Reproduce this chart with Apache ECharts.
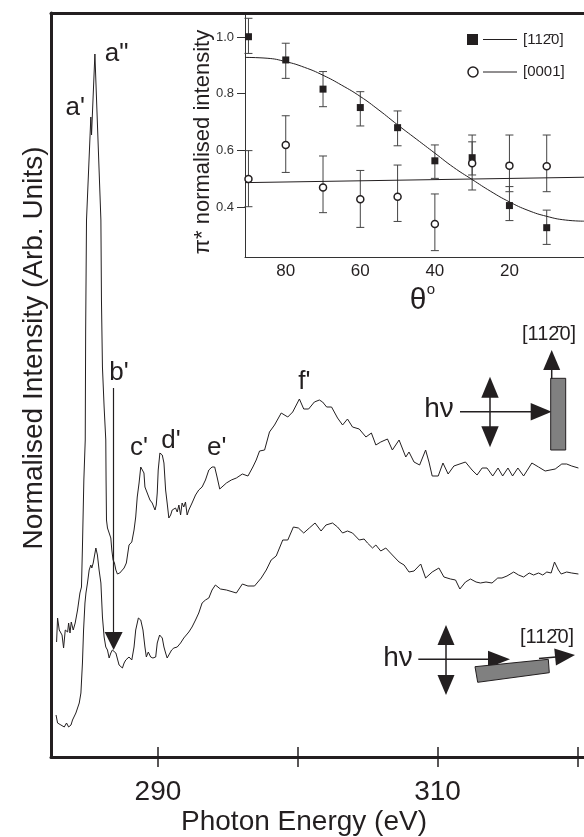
<!DOCTYPE html>
<html>
<head>
<meta charset="utf-8">
<script src="https://cdn.jsdelivr.net/npm/echarts@6/dist/echarts.min.js"></script>
<style>
html, body { margin: 0; padding: 0; background: #fff; }
#main { width: 584px; height: 837px; }
</style>
</head>
<body>
<div id="main"></div>
<script>
// main spectra, photon energy (eV) and intensity (arb. units)
var upperEnergy = [282.75,282.82,282.94,283.14,283.25,283.37,283.54,283.61,283.71,283.80,
  283.94,284.08,284.25,284.42,284.53,284.60,284.70,284.80,284.83,284.89,
  285.20,285.25,285.39,285.49,285.92,285.96,286.03,286.15,286.27,286.29,
  286.32,286.39,286.51,286.63,286.70,286.79,286.89,286.99,287.10,287.27,
  287.41,287.58,287.74,287.93,288.13,288.29,288.41,288.52,288.65,288.77,
  288.88,289.00,289.07,289.19,289.29,289.43,289.59,289.79,289.88,289.95,
  290.02,290.14,290.31,290.43,290.55,290.66,290.78,290.91,291.02,291.14,
  291.26,291.38,291.50,291.62,291.73,291.85,291.97,292.09,292.21,292.44,
  292.69,292.92,293.16,293.40,293.64,293.87,294.06,294.23,294.42,294.90,
  295.25,295.61,296.04,296.44,296.79,297.03,297.27,297.63,297.98,298.34,
  298.82,299.29,299.64,300.12,300.43,300.78,301.19,301.55,301.78,302.07,
  302.42,302.85,303.21,303.56,303.92,304.40,304.88,305.27,305.59,305.94,
  306.42,306.77,307.25,307.73,307.96,308.32,308.72,309.15,309.39,309.62,
  310.05,310.39,310.76,311.17,312.00,312.47,312.83,313.19,313.54,313.95,
  314.33,314.66,315.04,315.37,315.75,316.16,316.75,317.23,317.70,318.42,
  318.89,319.24,319.60,320.08];
var upperIntensity = [1.15,1.39,1.27,1.22,1.09,1.27,1.25,1.34,1.24,1.35,
  1.27,1.34,1.47,1.64,1.70,2.10,2.77,3.17,4.27,5.37,
  6.40,6.22,6.22,7.03,5.37,4.57,3.90,3.50,3.17,2.77,
  2.37,2.29,2.24,2.19,2.07,1.97,1.94,1.87,1.83,1.84,
  1.85,1.89,1.94,2.12,2.15,2.27,2.40,2.60,2.74,2.90,
  2.90,2.84,2.70,2.69,2.62,2.57,2.54,2.47,2.52,2.64,
  2.87,3.04,3.02,2.94,2.67,2.54,2.39,2.42,2.47,2.45,
  2.49,2.45,2.52,2.42,2.54,2.50,2.55,2.42,2.47,2.54,
  2.62,2.67,2.70,2.77,2.87,2.90,2.90,2.80,2.68,2.74,
  2.77,2.79,2.83,2.81,2.90,2.97,3.06,3.07,3.25,3.32,
  3.44,3.40,3.45,3.58,3.48,3.48,3.55,3.57,3.55,3.50,
  3.50,3.39,3.32,3.38,3.30,3.28,3.20,3.24,3.12,3.15,
  3.18,3.07,3.17,3.00,3.05,2.95,2.92,3.07,2.95,2.81,
  2.81,2.94,2.83,2.91,2.95,2.87,2.82,2.89,2.89,2.81,
  2.89,2.81,2.89,2.81,2.89,2.81,2.94,2.90,2.86,2.88,
  2.93,2.93,2.91,2.89];

var lowerEnergy = [282.71,282.82,282.94,283.06,283.18,283.30,283.46,283.61,283.78,283.89,
  284.01,284.13,284.37,284.49,284.60,284.68,284.78,284.85,284.96,285.08,
  285.20,285.27,285.37,285.56,285.67,285.79,285.92,286.03,286.15,286.27,
  286.39,286.51,286.63,286.74,286.86,286.99,287.10,287.22,287.34,287.46,
  287.58,287.70,287.81,287.93,288.13,288.29,288.41,288.60,288.77,288.93,
  289.07,289.17,289.31,289.48,289.64,289.84,289.95,290.12,290.31,290.43,
  290.55,290.66,290.78,290.98,291.14,291.38,291.62,291.85,291.97,292.21,
  292.44,292.69,292.92,293.16,293.40,293.64,293.87,294.11,294.47,294.90,
  295.61,296.04,296.44,296.91,297.39,297.75,298.10,298.46,298.93,299.29,
  299.69,300.05,300.43,300.83,301.24,301.67,302.02,302.49,302.85,303.21,
  303.56,303.92,304.40,304.75,304.99,305.35,305.59,305.94,306.30,306.77,
  307.25,307.61,307.96,308.32,308.80,309.15,309.62,310.10,310.46,310.93,
  311.29,311.60,312.00,312.36,312.76,313.07,313.47,313.90,314.31,314.61,
  314.97,315.45,315.80,316.16,316.56,316.87,317.23,317.53,317.82,318.13,
  318.37,318.65,318.85,319.24,319.60,320.08];
var lowerIntensity = [0.42,0.34,0.35,0.32,0.34,0.30,0.34,0.30,0.32,0.37,
  0.39,0.44,0.54,0.64,0.94,1.27,1.54,1.64,1.74,1.87,
  1.92,1.89,1.94,2.09,2.02,1.87,1.74,1.40,1.20,1.10,
  1.07,0.99,1.04,1.07,1.05,1.04,1.05,0.92,0.94,0.89,
  0.94,0.97,0.95,1.00,0.97,1.10,1.27,1.39,1.37,1.27,
  1.10,1.00,1.05,1.00,0.99,1.00,1.14,1.22,1.19,1.10,
  1.04,0.99,1.02,1.07,1.09,1.10,1.14,1.19,1.20,1.25,
  1.30,1.37,1.44,1.54,1.57,1.59,1.67,1.72,1.68,1.67,
  1.64,1.73,1.71,1.71,1.79,1.87,1.97,2.01,2.17,2.17,
  2.30,2.29,2.24,2.29,2.34,2.26,2.32,2.34,2.30,2.24,
  2.26,2.24,2.17,2.18,2.14,2.09,2.12,2.06,2.09,2.02,
  1.95,1.92,1.85,1.86,1.93,1.79,1.85,1.89,1.80,1.78,
  1.77,1.68,1.75,1.78,1.75,1.74,1.75,1.74,1.79,1.79,
  1.81,1.85,1.82,1.80,1.84,1.82,1.84,1.82,1.85,1.84,
  1.95,1.87,1.83,1.85,1.84,1.83];

// peak labels, placed in data units
var peakNames = ["a'", 'a"', "b'", "c'", "d'", "e'", "f'"];
var peakEnergy = [284.08, 287.04, 287.22, 288.65, 290.93, 294.21, 300.48];
var peakIntensity = [6.49, 7.035, 3.84, 3.09, 3.16, 3.09, 3.75];
// b' arrow, energy and start/end intensity
var arrowEnergy = 286.83;
var arrowFrom = 3.69;
var arrowTo = 1.16;

var energyTicks = [290, 300, 310, 320];
var energyLabels = [290, 310];

// inset: pi* intensity vs theta
var theta = [90, 80, 70, 60, 50, 40, 30, 20, 10];
var square = [1.001, 0.919, 0.816, 0.751, 0.680, 0.563, 0.574, 0.405, 0.327];
var squareLow = [0.942, 0.854, 0.754, 0.686, 0.616, 0.501, 0.513, 0.352, 0.268];
var squareHigh = [1.066, 0.978, 0.878, 0.807, 0.739, 0.619, 0.630, 0.472, 0.389];
var circle = [0.499, 0.619, 0.469, 0.427, 0.436, 0.340, 0.554, 0.546, 0.544];
var circleLow = [0.401, 0.522, 0.380, 0.328, 0.349, 0.246, 0.460, 0.454, 0.454];
var circleHigh = [0.599, 0.722, 0.580, 0.529, 0.548, 0.446, 0.654, 0.654, 0.654];
var fitTheta = [90.93, 85, 80, 75, 70, 65, 60, 55, 50, 45, 40, 35, 30, 25, 20, 15, 10, 5, 0];
var fitSquare = [0.928, 0.925, 0.913, 0.893, 0.865, 0.83, 0.79, 0.742, 0.69, 0.64, 0.59, 0.54, 0.497, 0.455, 0.418, 0.388, 0.367, 0.354, 0.35];
var fitCircleTheta = [90.93, 0];
var fitCircle = [0.486, 0.505];
var thetaTicks = [20, 40, 60, 80];
var insetTicks = [0.4, 0.6, 0.8, 1.0];

var ink = '#231f20';
var font = '"Liberation Sans", Arial, Helvetica, sans-serif';

function zip(a, b) { return a.map(function (v, i) { return [v, b[i]]; }); }

// little filled arrow head for the sketches
function head(tx, ty, ang, len, hw) {
    var bx = tx - len * Math.cos(ang), by = ty - len * Math.sin(ang);
    var px = -Math.sin(ang) * hw, py = Math.cos(ang) * hw;
    return { type: 'polygon', shape: { points: [[bx + px, by + py], [tx, ty], [bx - px, by - py]] }, style: { fill: ink } };
}
function seg(x1, y1, x2, y2, w) {
    return { type: 'line', shape: { x1: x1, y1: y1, x2: x2, y2: y2 }, style: { stroke: ink, lineWidth: w || 1.5 } };
}
function txt(x, y, s, size, rot) {
    return { type: 'text', x: x, y: y, rotation: rot || 0,
        style: { text: s, font: size + 'px ' + font, fill: ink, align: 'center', verticalAlign: 'middle', textAlign: 'center', textVerticalAlign: 'middle' } };
}

var chart = echarts.init(document.getElementById('main'));

var tilt = Math.atan2(-7.4, 73.3);
var sketch = [
    // upper: E along [11-20]
    txt(439, 409, 'h\u03bd', 28),
    seg(460, 411.7, 532, 411.7),
    head(551.7, 411.7, 0, 21, 8.7),
    seg(490, 396, 490, 428),
    head(490, 376.7, -Math.PI / 2, 21, 8.7),
    head(490, 447.3, Math.PI / 2, 21, 8.7),
    { type: 'rect', shape: { x: 550.7, y: 378.3, width: 15, height: 71.7 }, style: { fill: '#808080', stroke: ink, lineWidth: 1 } },
    seg(551.7, 368, 551.7, 379),
    head(551.7, 350, -Math.PI / 2, 20, 8.5),
    txt(549, 334, '[112\u03040]', 20),
    // lower: E across [11-20]
    txt(398, 658, 'h\u03bd', 28),
    seg(418.3, 659.3, 490, 659.3),
    head(510, 659.3, 0, 22, 8.5),
    seg(446, 643, 446, 677),
    head(446, 625, -Math.PI / 2, 20, 8.5),
    head(446, 695, Math.PI / 2, 20, 8.5),
    { type: 'polygon', shape: { points: [[475, 666.7], [548.3, 659.3], [549.3, 672.7], [477.7, 682.3]] }, style: { fill: '#808080', stroke: ink, lineWidth: 1 } },
    seg(539, 658.6, 556, 656.9),
    head(575, 655, tilt, 20, 8.5),
    txt(547, 637, '[112\u03040]', 20)
];

var legendParts = [
    { type: 'rect', shape: { x: 467, y: 34, width: 11, height: 11 }, style: { fill: ink } },
    seg(483, 39.5, 517, 39.5, 1),
    { type: 'text', x: 523, y: 40, style: { text: '[112\u03040]', font: '15px ' + font, fill: ink, align: 'left', verticalAlign: 'middle', textVerticalAlign: 'middle' } },
    { type: 'circle', shape: { cx: 473, cy: 72, r: 5 }, style: { fill: '#fff', stroke: ink, lineWidth: 1.5 } },
    seg(483, 72, 517, 72, 1),
    { type: 'text', x: 523, y: 72, style: { text: '[0001]', font: '15px ' + font, fill: ink, align: 'left', verticalAlign: 'middle', textVerticalAlign: 'middle' } }
];

var titles = [
    txt(34, 348, 'Normalised Intensity (Arb. Units)', 28, Math.PI / 2),
    txt(304, 822, 'Photon Energy (eV)', 28),
    txt(203, 142, '\u03c0* normalised intensity', 22, Math.PI / 2),
    txt(418, 301, '\u03b8', 30),
    txt(431, 290, 'o', 15)
];

function errorBars(params, api) {
    var x = api.value(0);
    var lo = api.coord([x, api.value(1)]);
    var hi = api.coord([x, api.value(2)]);
    var w = 4;
    var st = { stroke: '#444', lineWidth: 1 };
    return { type: 'group', children: [
        { type: 'line', shape: { x1: lo[0], y1: lo[1], x2: hi[0], y2: hi[1] }, style: st },
        { type: 'line', shape: { x1: lo[0] - w, y1: lo[1], x2: lo[0] + w, y2: lo[1] }, style: st },
        { type: 'line', shape: { x1: hi[0] - w, y1: hi[1], x2: hi[0] + w, y2: hi[1] }, style: st }
    ] };
}

var eMin = 282.35, eMax = 320.48;

chart.setOption({
    animation: false,
    backgroundColor: '#fff',
    textStyle: { fontFamily: font },
    grid: [
        { left: 51, right: -2, top: 13, bottom: 80 },
        { left: 245, right: -2, top: 13, bottom: 580 }
    ],
    xAxis: [
        { gridIndex: 0, type: 'value', min: eMin, max: eMax,
          axisLine: { onZero: false, lineStyle: { color: ink, width: 3 } },
          axisTick: { customValues: energyTicks, length: 10, lineStyle: { color: ink, width: 1.5 } },
          axisLabel: { customValues: energyLabels, margin: 35, verticalAlign: 'middle', fontSize: 28, color: ink, fontFamily: font },
          splitLine: { show: false } },
        { gridIndex: 0, type: 'value', min: eMin, max: eMax, position: 'bottom',
          axisLine: { show: false },
          axisTick: { inside: true, customValues: energyTicks, length: 10, lineStyle: { color: ink, width: 1.5 } },
          axisLabel: { show: false }, splitLine: { show: false } },
        { gridIndex: 0, type: 'value', min: eMin, max: eMax, position: 'top',
          axisLine: { onZero: false, lineStyle: { color: ink, width: 3 } },
          axisTick: { show: false }, axisLabel: { show: false }, splitLine: { show: false } },
        { gridIndex: 1, type: 'value', inverse: true, min: 0, max: 90.93,
          axisLine: { onZero: false, lineStyle: { color: '#333', width: 1 } },
          axisTick: { show: false },
          axisLabel: { customValues: thetaTicks, margin: 14, verticalAlign: 'middle', fontSize: 17, color: ink, fontFamily: font },
          splitLine: { show: false } }
    ],
    yAxis: [
        { gridIndex: 0, type: 'value', min: 0, max: 7.44,
          axisLine: { show: true, onZero: false, lineStyle: { color: ink, width: 3 } },
          axisTick: { show: false }, axisLabel: { show: false }, splitLine: { show: false } },
        { gridIndex: 1, type: 'value', min: 0.2235, max: 1.0847,
          axisLine: { show: true, onZero: false, lineStyle: { color: '#333', width: 1 } },
          axisTick: { show: true, customValues: insetTicks, length: 8, lineStyle: { color: '#333' } },
          axisLabel: { customValues: insetTicks, margin: 11, fontSize: 13, color: '#333', fontFamily: font,
                       formatter: function (v) { return v.toFixed(1); } },
          splitLine: { show: false } }
    ],
    series: [
        { type: 'line', xAxisIndex: 0, yAxisIndex: 0, data: zip(upperEnergy, upperIntensity),
          symbol: 'none', lineStyle: { color: ink, width: 1 },
          markLine: { silent: true, symbol: ['none', 'triangle'], symbolSize: 18,
                      label: { show: false }, lineStyle: { color: ink, width: 1.2, type: 'solid' },
                      data: [[{ coord: [arrowEnergy, arrowFrom] }, { coord: [arrowEnergy, arrowTo] }]] } },
        { type: 'line', xAxisIndex: 0, yAxisIndex: 0, data: zip(lowerEnergy, lowerIntensity),
          symbol: 'none', lineStyle: { color: ink, width: 1 } },
        { type: 'scatter', xAxisIndex: 0, yAxisIndex: 0, symbolSize: 1, silent: true,
          itemStyle: { color: 'rgba(0,0,0,0)', opacity: 1 },
          data: peakNames.map(function (n, i) { return { name: n, value: [peakEnergy[i], peakIntensity[i]] }; }),
          label: { show: true, position: 'inside', formatter: '{b}', fontSize: 26, color: ink, opacity: 1,
                   textBorderWidth: 0, fontFamily: font } },
        { type: 'line', xAxisIndex: 3, yAxisIndex: 1, data: zip(fitTheta, fitSquare), smooth: true,
          symbol: 'none', lineStyle: { color: ink, width: 1 } },
        { type: 'line', xAxisIndex: 3, yAxisIndex: 1, data: zip(fitCircleTheta, fitCircle),
          symbol: 'none', lineStyle: { color: ink, width: 1 } },
        { type: 'custom', xAxisIndex: 3, yAxisIndex: 1, renderItem: errorBars, encode: { x: 0, y: [1, 2] },
          data: theta.map(function (t, i) { return [t, squareLow[i], squareHigh[i]]; }) },
        { type: 'custom', xAxisIndex: 3, yAxisIndex: 1, renderItem: errorBars, encode: { x: 0, y: [1, 2] },
          data: theta.map(function (t, i) { return [t, circleLow[i], circleHigh[i]]; }) },
        { type: 'scatter', xAxisIndex: 3, yAxisIndex: 1, data: zip(theta, square), symbol: 'rect', symbolSize: 7,
          itemStyle: { color: ink, opacity: 1 }, z: 5 },
        { type: 'scatter', xAxisIndex: 3, yAxisIndex: 1, data: zip(theta, circle), symbol: 'circle', symbolSize: 7,
          itemStyle: { color: '#fff', borderColor: ink, borderWidth: 1.5, opacity: 1 }, z: 5 }
    ],
    graphic: titles.concat(legendParts, sketch)
});
</script>
</body>
</html>
